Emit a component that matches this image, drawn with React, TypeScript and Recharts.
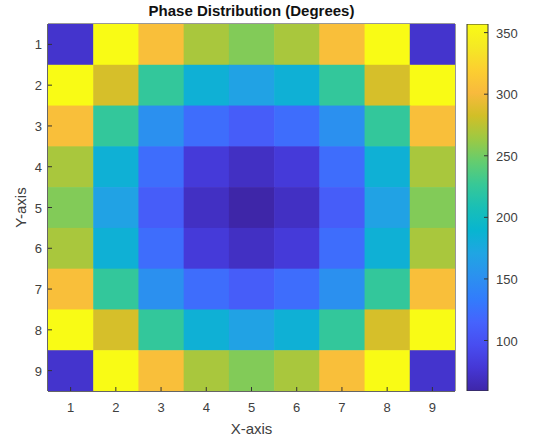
import React from 'react';
import {
  ScatterChart, Scatter, XAxis, YAxis, BarChart, Bar, ReferenceArea,
} from 'recharts';

// grid positions and tick labels
const xLabels = [1, 2, 3, 4, 5, 6, 7, 8, 9];
const yLabels = [1, 2, 3, 4, 5, 6, 7, 8, 9];
const colorbarTicks = [100, 150, 200, 250, 300, 350];

// phase per cell (degrees), row by row from y = 1 down to y = 9
const phaseRow1 = [74, 357, 305, 268, 255, 268, 305, 357, 74];
const phaseRow2 = [357, 285, 224, 184, 168, 184, 224, 285, 357];
const phaseRow3 = [305, 224, 151, 122, 110, 122, 151, 224, 305];
const phaseRow4 = [268, 184, 122, 80, 70, 80, 122, 184, 268];
const phaseRow5 = [255, 168, 110, 70, 59, 70, 110, 168, 255];
const phaseRow6 = [268, 184, 122, 80, 70, 80, 122, 184, 268];
const phaseRow7 = [305, 224, 151, 122, 110, 122, 151, 224, 305];
const phaseRow8 = [357, 285, 224, 184, 168, 184, 224, 285, 357];
const phaseRow9 = [74, 357, 305, 268, 255, 268, 305, 357, 74];

const phaseRows = [phaseRow1, phaseRow2, phaseRow3, phaseRow4, phaseRow5, phaseRow6, phaseRow7, phaseRow8, phaseRow9];

const cells = phaseRows.flatMap((row, i) =>
  row.map((phase, j) => ({ x: xLabels[j], y: yLabels[i], phase }))
);
const allPhases = phaseRows.flat();
const cMin = Math.min(...allPhases);
const cMax = Math.max(...allPhases);
const colorbarData = [{ name: 'cb', span: [cMin, cMax] }];

// MATLAB parula, sampled
const PARULA = [
  [0.2422, 0.1504, 0.6603],
  [0.2706, 0.2147, 0.8364],
  [0.2813, 0.3006, 0.9414],
  [0.2699, 0.3892, 0.9906],
  [0.1963, 0.4847, 0.9892],
  [0.1687, 0.5703, 0.9359],
  [0.1248, 0.6459, 0.8883],
  [0.0297, 0.7082, 0.8163],
  [0.0964, 0.7500, 0.7120],
  [0.2161, 0.7843, 0.5923],
  [0.3909, 0.8029, 0.4354],
  [0.6174, 0.7876, 0.2612],
  [0.8203, 0.7498, 0.1535],
  [0.9728, 0.7298, 0.2394],
  [0.9892, 0.8136, 0.1885],
  [0.9597, 0.9135, 0.1423],
  [0.9769, 0.9839, 0.0805],
];

const parulaAt = (t: number) => {
  const tt = Math.max(0, Math.min(1, t)) * (PARULA.length - 1);
  const i = Math.min(PARULA.length - 2, Math.floor(tt));
  const f = tt - i;
  const c = PARULA[i].map((v, k) => Math.round(255 * (v + (PARULA[i + 1][k] - v) * f)));
  return `rgb(${c[0]},${c[1]},${c[2]})`;
};
const phaseColor = (v: number) => parulaAt((v - cMin) / (cMax - cMin));

const FONT = '"Liberation Sans", Arial, Helvetica, sans-serif';
const INK = '#333333';
const LABEL = '#404040';

// main axes layout
const W = 470;
const H = 439;
const M = { top: 24, right: 15, bottom: 0, left: 0 };
const Y_W = 48;
const X_H = 48;
const cellW = (W - M.left - M.right - Y_W) / xLabels.length;
const cellH = (H - M.top - M.bottom - X_H) / yLabels.length;

const HeatCell = (props: any) => {
  const { cx, cy, payload } = props;
  return (
    <rect
      x={cx - cellW / 2}
      y={cy - cellH / 2}
      width={cellW + 0.6}
      height={cellH + 0.6}
      fill={phaseColor(payload.phase)}
    />
  );
};

const BottomTick = (props: any) => {
  const { x, y, payload } = props;
  return (
    <g>
      <line x1={x} y1={y} x2={x} y2={y - 4} stroke={INK} />
      <text x={x} y={y + 21} textAnchor="middle" fontSize={13} fill={LABEL} fontFamily={FONT}>
        {payload.value}
      </text>
    </g>
  );
};

const TopTick = (props: any) => {
  const { x, y } = props;
  return <line x1={x} y1={y} x2={x} y2={y + 4} stroke={INK} />;
};

const LeftTick = (props: any) => {
  const { x, y, payload } = props;
  return (
    <g>
      <line x1={x} y1={y} x2={x + 4} y2={y} stroke={INK} />
      <text x={x - 6} y={y + 5} textAnchor="end" fontSize={13} fill={LABEL} fontFamily={FONT}>
        {payload.value}
      </text>
    </g>
  );
};

const RightTick = (props: any) => {
  const { x, y } = props;
  return <line x1={x} y1={y} x2={x - 4} y2={y} stroke={INK} />;
};

const ColorbarTick = (props: any) => {
  const { x, y, payload } = props;
  return (
    <g>
      <line x1={x} y1={y} x2={x - 4} y2={y} stroke={INK} />
      <text x={x + 8} y={y + 5} textAnchor="start" fontSize={13} fill={LABEL} fontFamily={FONT}>
        {payload.value}
      </text>
    </g>
  );
};

export default function App() {
  return (
    <div style={{ position: 'absolute', left: 0, top: 0, width: 535, height: 439, background: '#fff', fontFamily: FONT }}>
      <div
        style={{
          position: 'absolute', left: 48, top: 2, width: 407, textAlign: 'center',
          fontSize: 15, fontWeight: 'bold', lineHeight: '18px', color: '#111',
        }}
      >
        Phase Distribution (Degrees)
      </div>

      <div style={{ position: 'absolute', left: 0, top: 0 }}>
        <ScatterChart width={W} height={H} margin={M}>
          <XAxis
            type="number"
            dataKey="x"
            domain={[0.5, 9.5]}
            ticks={xLabels}
            allowDataOverflow
            height={X_H}
            tickSize={0}
            tickMargin={0}
            tick={<BottomTick />}
            stroke={INK}
            label={{ value: 'X-axis', position: 'insideBottom', offset: 5, fill: LABEL, fontSize: 15, fontFamily: FONT }}
          />
          <XAxis
            xAxisId="top"
            orientation="top"
            type="number"
            domain={[0.5, 9.5]}
            ticks={xLabels}
            height={0}
            tickSize={0}
            tickMargin={0}
            tick={<TopTick />}
            stroke={INK}
          />
          <YAxis
            type="number"
            dataKey="y"
            domain={[0.5, 9.5]}
            ticks={yLabels}
            reversed
            allowDataOverflow
            width={Y_W}
            tickSize={0}
            tickMargin={0}
            tick={<LeftTick />}
            stroke={INK}
            label={{ value: 'Y-axis', angle: -90, position: 'insideLeft', offset: 21, textAnchor: 'middle', fill: LABEL, fontSize: 15, fontFamily: FONT }}
          />
          <YAxis
            yAxisId="right"
            orientation="right"
            type="number"
            domain={[0.5, 9.5]}
            ticks={yLabels}
            reversed
            width={0}
            tickSize={0}
            tickMargin={0}
            tick={<RightTick />}
            stroke={INK}
          />
          <Scatter data={cells} shape={<HeatCell />} isAnimationActive={false} />
          <ReferenceArea x1={0.5} x2={9.5} y1={0.5} y2={9.5} fill="none" stroke={INK} strokeWidth={1} ifOverflow="extendDomain" />
        </ScatterChart>
      </div>

      <div style={{ position: 'absolute', left: 455, top: 0 }}>
        <BarChart width={80} height={H} data={colorbarData} margin={{ top: 24, right: 0, bottom: 48, left: 12 }} barCategoryGap={0}>
          <defs>
            <linearGradient id="parula" x1="0" y1="1" x2="0" y2="0">
              {PARULA.map((_, i) => (
                <stop key={i} offset={i / (PARULA.length - 1)} stopColor={parulaAt(i / (PARULA.length - 1))} />
              ))}
            </linearGradient>
          </defs>
          <XAxis dataKey="name" hide />
          <YAxis
            orientation="right"
            type="number"
            domain={[cMin, cMax]}
            ticks={colorbarTicks}
            allowDataOverflow
            width={47}
            axisLine={false}
            tickSize={0}
            tickMargin={0}
            tick={<ColorbarTick />}
          />
          <Bar dataKey="span" fill="url(#parula)" stroke={INK} strokeWidth={1} isAnimationActive={false} />
        </BarChart>
      </div>
    </div>
  );
}
